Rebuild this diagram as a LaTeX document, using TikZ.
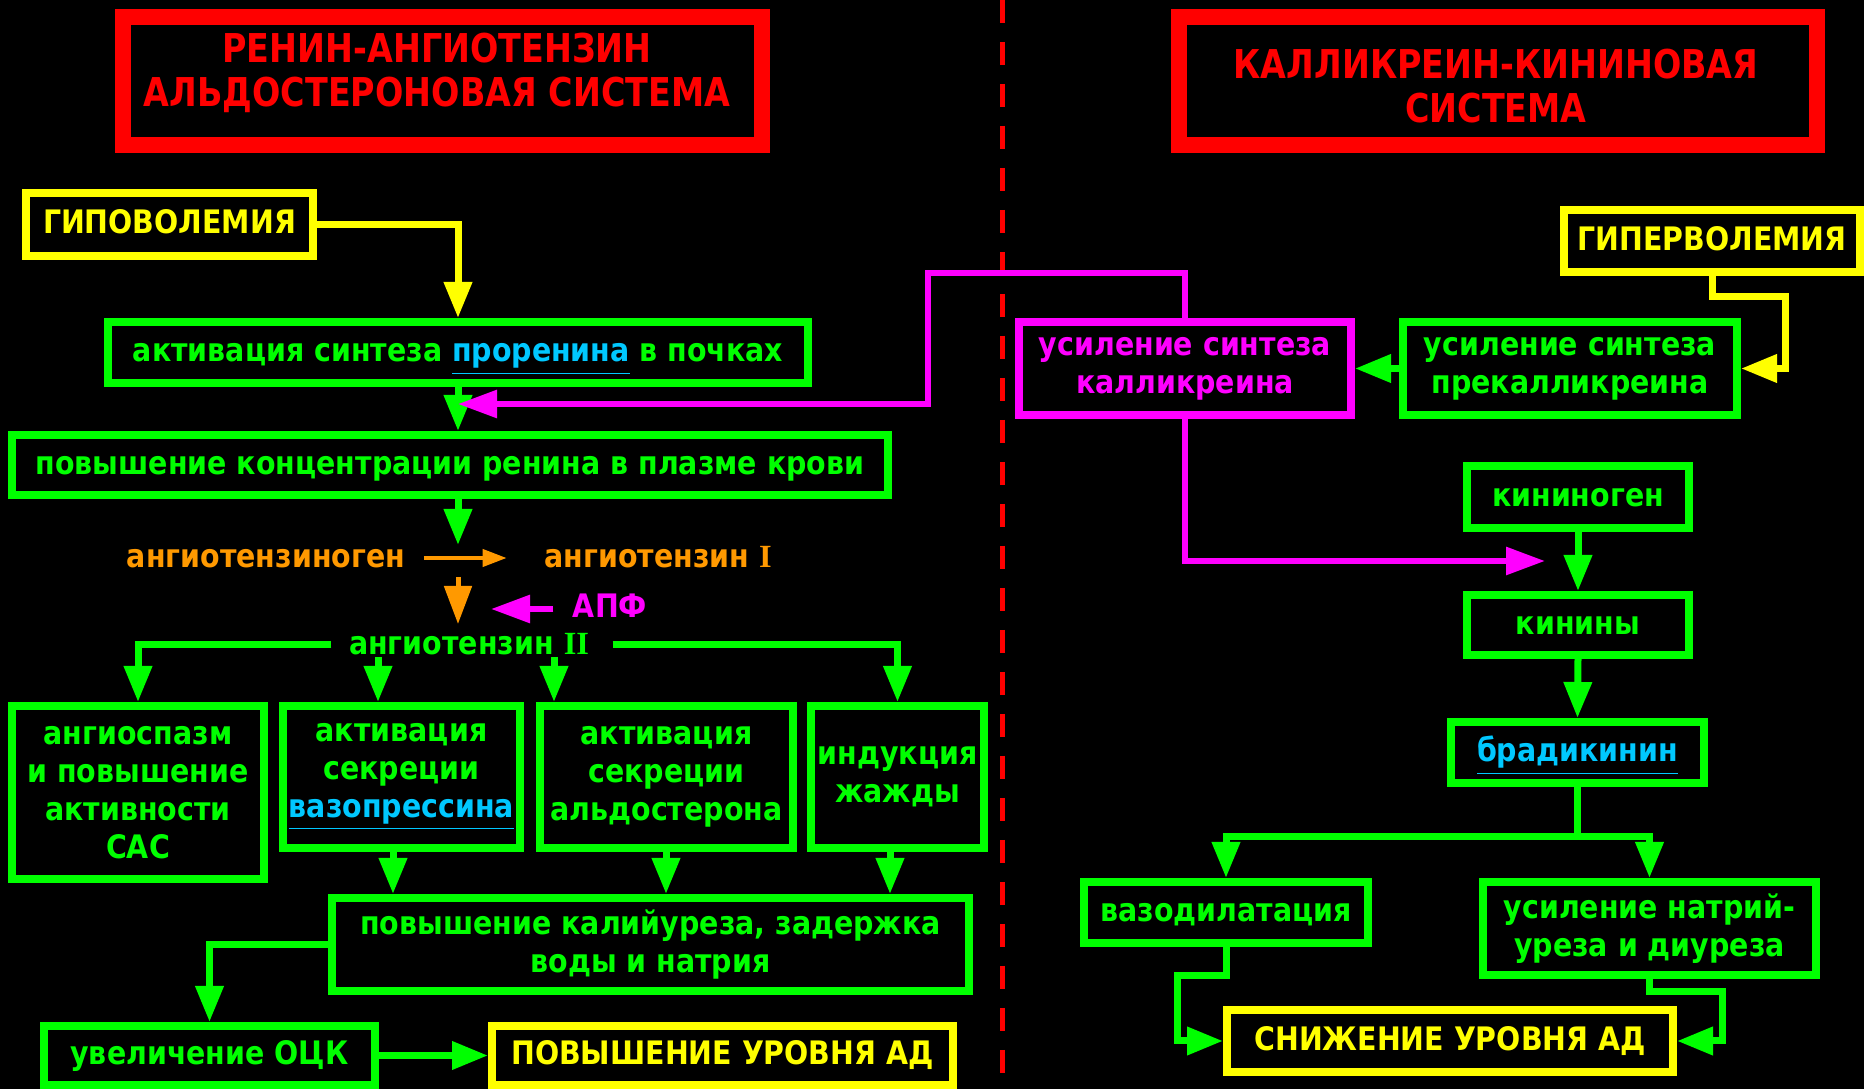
\documentclass[tikz,border=0pt]{standalone}
\usepackage{fontspec}
\setmainfont{DejaVu Sans}[FakeStretch=0.88]
\newfontfamily\ttlfont{DejaVu Sans}[FakeStretch=0.84]
\newfontfamily\numfont{Liberation Serif}
\usetikzlibrary{arrows.meta, calc}
\definecolor{ragreen}{HTML}{00FF00}
\definecolor{rayellow}{HTML}{FFFF00}
\definecolor{ramagenta}{HTML}{FF00FF}
\definecolor{rared}{HTML}{FF0000}
\definecolor{raorange}{HTML}{FF9900}
\definecolor{racyan}{HTML}{00C8FF}
\newcommand{\hlink}[1]{\textcolor{racyan}{\underline{#1}}}

\begin{document}
\begin{tikzpicture}[x=1cm, y=-1cm,
    txt/.style={font=\fontsize{9.2pt}{10.8pt}\selectfont\bfseries, align=center, inner sep=0pt},
    oneline/.style={text height=5.2pt, text depth=0pt},
    gbox/.style={txt, draw=ragreen, line width=0.8mm, text=ragreen},
    ybox/.style={txt, draw=rayellow, line width=0.8mm, text=rayellow},
    mbox/.style={txt, draw=ramagenta, line width=0.8mm, text=ramagenta},
    ttlbox/.style={draw=rared, line width=1.6mm},
    ttltxt/.style={font=\fontsize{11.3pt}{12.7pt}\ttlfont\bfseries, align=center, text=rared, inner sep=0pt},
    glink/.style={draw=ragreen, line width=0.7mm, -{Triangle[length=3.6mm,width=2.7mm]}},
    ylink/.style={draw=rayellow, line width=0.7mm, -{Triangle[length=3.6mm,width=2.7mm]}},
    mlink/.style={draw=ramagenta, line width=0.6mm, -{Triangle[length=3.9mm,width=2.7mm]}},
    olink/.style={draw=raorange, line width=0.5mm, -{Triangle[length=3.8mm,width=2.7mm]}}]
    % black page, 1864 x 1089 px
    \fill[black] (0,0) rectangle (18.64,10.89);
    \useasboundingbox (0,0) rectangle (18.64,10.89);

    % divider
    \draw[rared, line width=0.5mm, dash pattern=on 2.3mm off 1.9mm] (10.02,0) -- (10.02,10.89);

    % titles
    \node[ttlbox, minimum width=6.39cm, minimum height=1.28cm] (rasframe) at (4.425,0.81) {};
    \node[ttltxt] (rastitle) at (4.37,0.73) {РЕНИН-АНГИОТЕНЗИН\\АЛЬДОСТЕРОНОВАЯ СИСТЕМА};
    \node[ttlbox, minimum width=6.38cm, minimum height=1.28cm] (kksframe) at (14.98,0.81) {};
    \node[ttltxt] (kkstitle) at (14.96,0.86) {КАЛЛИКРЕИН-КИНИНОВАЯ\\СИСТЕМА};

    % renin-angiotensin side
    \node[ybox, oneline, minimum width=2.87cm, minimum height=0.63cm] (hypo) at (1.695,2.245) {ГИПОВОЛЕМИЯ};
    \node[gbox, oneline, minimum width=7.00cm, minimum height=0.61cm] (prorenin) at (4.58,3.525) {активация синтеза \hlink{проренина} в почках};
    \node[gbox, oneline, minimum width=8.76cm, minimum height=0.60cm] (renin) at (4.50,4.65) {повышение концентрации ренина в плазме крови};
    \node[txt, oneline, text=raorange] (agen) at (2.66,5.58) {ангиотензиноген};
    \node[txt, oneline, text=raorange] (angI) at (6.58,5.58) {ангиотензин {\numfont I}};
    \node[txt, oneline, text=ramagenta] (apf) at (6.10,6.08) {АПФ};
    \node[txt, oneline, text=ragreen] (angII) at (4.69,6.45) {ангиотензин {\numfont II}};
    \node[gbox, minimum width=2.52cm, minimum height=1.73cm] (spasm) at (1.38,7.925) {ангиоспазм\\и повышение\\активности\\САС};
    \node[gbox, minimum width=2.37cm, minimum height=1.42cm] (vasopr) at (4.015,7.77) {активация\\секреции\\\hlink{вазопрессина}};
    \node[gbox, minimum width=2.53cm, minimum height=1.42cm] (aldo) at (6.665,7.77) {активация\\секреции\\альдостерона};
    \node[gbox, minimum width=1.73cm, minimum height=1.42cm] (thirst) at (8.975,7.77) {индукция\\жажды};
    \node[gbox, minimum width=6.37cm, minimum height=0.93cm] (retain) at (6.505,9.445) {повышение калийуреза, задержка\\воды и натрия};
    \node[gbox, oneline, minimum width=3.31cm, minimum height=0.59cm] (ock) at (2.095,10.555) {увеличение ОЦК};
    \node[ybox, oneline, minimum width=4.61cm, minimum height=0.59cm] (adup) at (7.225,10.555) {ПОВЫШЕНИЕ УРОВНЯ АД};

    % kallikrein-kinin side
    \node[ybox, oneline, minimum width=2.96cm, minimum height=0.62cm] (hyper) at (17.12,2.41) {ГИПЕРВОЛЕМИЯ};
    \node[gbox, minimum width=3.34cm, minimum height=0.93cm] (prekal) at (15.70,3.685) {усиление синтеза\\прекалликреина};
    \node[mbox, minimum width=3.32cm, minimum height=0.93cm] (kal) at (11.85,3.685) {усиление синтеза\\калликреина};
    \node[gbox, oneline, minimum width=2.22cm, minimum height=0.62cm] (kgen) at (15.78,4.97) {кининоген};
    \node[gbox, oneline, minimum width=2.22cm, minimum height=0.60cm] (kinins) at (15.78,6.25) {кинины};
    \node[gbox, oneline, minimum width=2.53cm, minimum height=0.61cm] (brady) at (15.775,7.525) {\hlink{брадикинин}};
    \node[gbox, oneline, minimum width=2.84cm, minimum height=0.61cm] (vaso) at (12.26,9.125) {вазодилатация};
    \node[gbox, minimum width=3.33cm, minimum height=0.93cm] (natri) at (16.495,9.285) {усиление натрий-\\уреза и диуреза};
    \node[ybox, oneline, minimum width=4.46cm, minimum height=0.62cm] (addown) at (14.50,10.41) {СНИЖЕНИЕ УРОВНЯ АД};

    % free ends
    \coordinate (renin in) at (4.58,4.04);
    \coordinate (conv) at (4.58,5.45);
    \coordinate (ace top) at (4.58,5.77);
    \coordinate (ace tip) at (4.58,6.24);
    \coordinate (apf tip) at (4.91,6.09);
    \coordinate (to vasopr) at (3.78,6.57);
    \coordinate (to aldo) at (5.54,6.57);
    \coordinate (from vasopr) at (3.93,8.94);
    \coordinate (from aldo) at (6.66,8.94);
    \coordinate (from thirst) at (8.90,8.94);
    \coordinate (kinin in) at (15.45,5.61);
    \path (brady.south) ++(0,0.50) coordinate (split);

    % left connectors
    \draw[ylink] (hypo.east) -| (prorenin.north);
    \draw[glink] (prorenin.south) -- (prorenin.south |- renin.north);
    \draw[mlink] (kal.north) |- (9.28,2.73) |- (renin in);
    \draw[glink] (renin.south -| conv) -- (conv);
    \draw[draw=raorange, line width=0.4mm, -{Triangle[length=2.4mm,width=1.7mm]}, shorten <=1.8mm, shorten >=3.7mm] (agen.east) -- (agen.east -| angI.west);
    \draw[olink] (ace top) -- (ace tip);
    \draw[mlink, shorten <=1.9mm] (apf.west |- apf tip) -- (apf tip);
    \draw[glink] ([xshift=-1.7mm]angII.west) -| (spasm.north);
    \draw[glink] ([xshift=2.3mm]angII.east) -| (thirst.north);
    \draw[glink] (to vasopr) -- (to vasopr |- vasopr.north);
    \draw[glink] (to aldo) -- (to aldo |- aldo.north);
    \draw[glink] (vasopr.south -| from vasopr) -- (from vasopr);
    \draw[glink] (aldo.south -| from aldo) -- (from aldo);
    \draw[glink] (thirst.south -| from thirst) -- (from thirst);
    \draw[glink] (retain.west) -| (ock.north);
    \draw[glink] (ock.east) -- (adup.west);

    % right connectors
    \draw[ylink] (hyper.south) |- (17.85,2.97) |- (prekal.east);
    \draw[glink] (prekal.west) -- (kal.east);
    \draw[mlink] (kal.south) |- (kinin in);
    \draw[glink] (kgen.south) -- (kinins.north);
    \draw[glink] (kinins.south) -- (brady.north);
    \draw[glink] (brady.south) -- (split) -| (vaso.north);
    \draw[glink] (split) -| (natri.north);
    \draw[glink] (vaso.south) |- (11.77,9.76) |- (addown.west);
    \draw[glink] (natri.south) |- (17.22,9.92) |- (addown.east);
\end{tikzpicture}
\end{document}
